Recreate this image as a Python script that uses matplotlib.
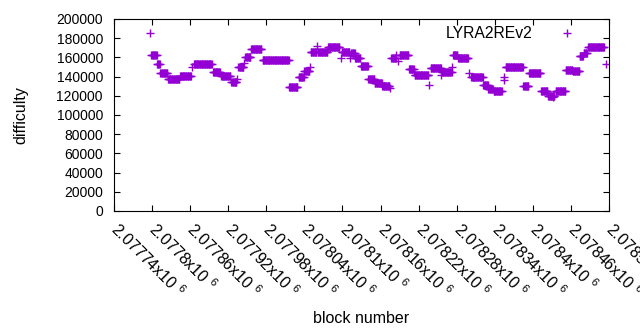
import numpy as np
import matplotlib
matplotlib.use("Agg")
import matplotlib.pyplot as plt
from matplotlib.ticker import FixedLocator

plt.rcParams['font.family'] = ['Liberation Sans', 'DejaVu Sans']
plt.rcParams['mathtext.fontset'] = 'custom'
plt.rcParams['mathtext.rm'] = 'Liberation Sans'
plt.rcParams['mathtext.default'] = 'regular'

run_start = [2077797, 2077799, 2077808, 2077813, 2077825, 2077844, 2077863, 2077866,
             2077896, 2077909, 2077925, 2077934, 2077936, 2077945, 2077947, 2077956,
             2077974, 2078016, 2078031, 2078040, 2078049, 2078050, 2078060, 2078061,
             2078077, 2078097, 2078099, 2078112, 2078114, 2078120, 2078129, 2078141,
             2078151, 2078163, 2078175, 2078177, 2078185, 2078188, 2078190, 2078205,
             2078213, 2078214, 2078236, 2078239, 2078256, 2078257, 2078273, 2078274,
             2078282, 2078300, 2078303, 2078322, 2078330, 2078338, 2078354, 2078355,
             2078357, 2078385, 2078394, 2078413, 2078424, 2078432, 2078436, 2078452,
             2078463, 2078474, 2078480, 2078487, 2078515]
run_end = [2077797, 2077807, 2077812, 2077824, 2077843, 2077861, 2077863, 2077894,
           2077907, 2077923, 2077933, 2077934, 2077944, 2077945, 2077955, 2077972,
           2078015, 2078029, 2078039, 2078048, 2078049, 2078059, 2078060, 2078076,
           2078095, 2078097, 2078111, 2078112, 2078119, 2078128, 2078140, 2078150,
           2078162, 2078174, 2078175, 2078184, 2078185, 2078188, 2078204, 2078212,
           2078213, 2078235, 2078236, 2078255, 2078256, 2078272, 2078273, 2078281,
           2078298, 2078300, 2078321, 2078329, 2078337, 2078351, 2078354, 2078355,
           2078384, 2078393, 2078412, 2078423, 2078434, 2078432, 2078451, 2078462,
           2078473, 2078479, 2078485, 2078512, 2078515]
run_value = [185000, 163000, 153000, 143500, 137000, 140500, 149500, 153000,
             144500, 140500, 134500, 138000, 149500, 154000, 160000, 168500,
             157000, 129500, 140000, 145500, 150500, 165500, 172000, 166000,
             170500, 159000, 165500, 159000, 164500, 159000, 151000, 138000,
             133500, 130500, 128000, 159000, 162000, 156500, 163000, 147500,
             144500, 141500, 131000, 148500, 141500, 145000, 150500, 162000,
             159000, 143500, 140000, 131000, 127000, 124500, 140000, 136500,
             149500, 130000, 143500, 124500, 120000, 118500, 125500, 147000,
             146000, 161500, 164500, 171000, 153500]

x_ticks = np.arange(2077740, 2078521, 60)
x_tick_labels = ['2.07774', '2.0778', '2.07786', '2.07792', '2.07798', '2.07804',
                 '2.0781', '2.07816', '2.07822', '2.07828', '2.07834', '2.0784',
                 '2.07846', '2.07852']
y_ticks = np.arange(0, 200001, 20000)

blocks = np.concatenate([np.arange(s, e + 1) for s, e in zip(run_start, run_end)])
difficulty = np.concatenate([np.full(e - s + 1, v) for s, e, v in zip(run_start, run_end, run_value)])

fig = plt.figure(figsize=(6.4, 3.3), dpi=100)
ax = fig.add_axes([114 / 640, 1 - 211 / 330, 495 / 640, 192 / 330])

ax.plot(blocks, difficulty, linestyle='none', marker='+', markersize=6,
        markeredgewidth=1.0, color='#9400d3', label='LYRA2REv2')

ax.set_xlim(2077740, 2078520)
ax.set_ylim(0, 200000)
ax.xaxis.set_major_locator(FixedLocator(x_ticks))
ax.set_xticklabels([f'{t}x10 $^{{6}}$' for t in x_tick_labels])
ax.set_yticks(y_ticks)
ax.set_yticklabels([str(v) for v in y_ticks])
ax.tick_params(direction='in', length=4, width=0.8, top=True, right=True,
               labelsize=10, colors='black')
ax.tick_params(axis='y', pad=8)
ax.tick_params(axis='x', pad=11, labelsize=11.5)
for lab in ax.get_xticklabels():
    lab.set_rotation(-45)
    lab.set_rotation_mode('anchor')
    lab.set_ha('left')
    lab.set_va('center')
for sp in ax.spines.values():
    sp.set_linewidth(0.8)

ax.set_ylabel('difficulty', fontsize=11.5, labelpad=20)
ax.set_xlabel('block number', fontsize=11.5, labelpad=7)

ax.legend(loc='upper right', bbox_to_anchor=(0.951, 0.962), frameon=False,
          markerfirst=False, handlelength=2.3, fontsize=11.3, handletextpad=1.0,
          borderpad=0, borderaxespad=0)

fig.savefig('out.png', dpi=100)
plt.close(fig)
